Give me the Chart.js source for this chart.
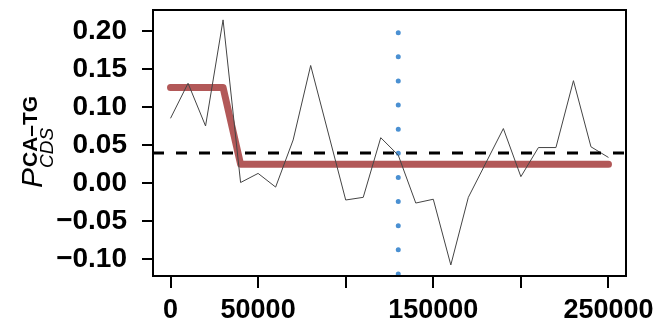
<!DOCTYPE html>
<html>
<head>
<meta charset="utf-8">
<script src="https://cdn.jsdelivr.net/npm/chart.js@4"></script>
<style>
  html, body { margin: 0; padding: 0; background: #fff; }
  canvas { display: block; }
</style>
</head>
<body>
<canvas id="chart" width="657" height="324"></canvas>
<script>
// window positions (bp) and the per-window values
const positions = [0, 10000, 20000, 30000, 40000, 50000, 60000, 70000, 80000,
    100000, 110000, 120000, 130000, 140000, 150000, 160000, 170000,
    190000, 200000, 210000, 220000, 230000, 240000, 250000];
const values = [0.0855, 0.1316, 0.0754, 0.215, 0.001, 0.013, -0.005, 0.057, 0.155,
    -0.022, -0.0185, 0.060, 0.037, -0.026, -0.021, -0.1075, -0.0185,
    0.072, 0.0087, 0.047, 0.047, 0.135, 0.048, 0.034];

// fitted step (segment means)
const stepX = [0, 30000, 40000, 250000];
const stepY = [0.126, 0.126, 0.025, 0.025];

const threshold = 0.04;   // dashed horizontal
const marker = 130000;    // dotted vertical

const xRange = [-10000, 260000];
const yRange = [-0.122, 0.228];
const xTicks = [0, 50000, 100000, 150000, 200000, 250000];
const xTickLabels = ['0', '50000', '', '150000', '', '250000'];
const yTicks = [-0.10, -0.05, 0.00, 0.05, 0.10, 0.15, 0.20];
const yTickLabels = ['\u22120.10', '\u22120.05', '0.00', '0.05', '0.10', '0.15', '0.20'];

const toPts = (xs, ys) => xs.map((x, i) => ({ x: x, y: ys[i] }));

// box around the plot + rotated y title with sub/superscript
const frame = {
    id: 'frame',
    afterDraw(chart) {
        const ctx = chart.ctx;
        const a = chart.chartArea;
        ctx.save();
        ctx.strokeStyle = '#000';
        ctx.lineWidth = 2;
        ctx.strokeRect(a.left, a.top, a.right - a.left, a.bottom - a.top);

        const mid = (a.top + a.bottom) / 2;
        ctx.translate(0, mid);
        ctx.rotate(-Math.PI / 2);
        ctx.fillStyle = '#000';
        ctx.textBaseline = 'alphabetic';
        ctx.textAlign = 'left';
        const fP = 'italic 30px "Liberation Sans"';
        const fSup = 'bold 21px "Liberation Sans"';
        const fSub = 'italic 19px "Liberation Sans"';
        ctx.font = fP; const wP = ctx.measureText('P').width;
        const x0 = mid - 188;
        ctx.fillText('P', x0, 42);
        ctx.font = fSup; ctx.fillText('CA\u2013TG', x0 + wP + 1, 37);
        ctx.font = fSub; ctx.fillText('CDS', x0 + wP, 53);
        ctx.restore();
    }
};

new Chart(document.getElementById('chart').getContext('2d'), {
    type: 'line',
    data: {
        datasets: [
            {
                data: toPts(stepX, stepY),
                borderColor: 'rgba(170, 70, 70, 0.9)',
                borderWidth: 7,
                borderCapStyle: 'round',
                borderJoinStyle: 'round',
                pointRadius: 0,
                order: 4
            },
            {
                data: toPts([marker, marker], [-0.1193, yRange[1]]),
                borderColor: '#4a90d2',
                borderWidth: 5,
                borderDash: [0, 24.13],
                borderCapStyle: 'round',
                pointRadius: 0,
                order: 3
            },
            {
                data: toPts(positions, values),
                borderColor: '#444',
                borderWidth: 1,
                pointRadius: 0,
                tension: 0,
                order: 2
            },
            {
                data: toPts(xRange, [threshold, threshold]),
                borderColor: '#000',
                borderWidth: 3,
                borderDash: [11, 12],
                pointRadius: 0,
                order: 1
            }
        ]
    },
    options: {
        responsive: false,
        animation: false,
        devicePixelRatio: 1,
        layout: { padding: { left: 0, top: 10, right: 31, bottom: 0 } },
        plugins: { legend: { display: false }, tooltip: { enabled: false } },
        scales: {
            x: {
                type: 'linear',
                min: xRange[0],
                max: xRange[1],
                afterBuildTicks: s => { s.ticks = xTicks.map(v => ({ value: v })); },
                afterFit: s => { s.height = 48; s.paddingLeft = 0; s.paddingRight = 0; },
                border: { display: false },
                grid: { drawOnChartArea: false, drawTicks: true, tickLength: 12, color: '#000', lineWidth: 2 },
                ticks: {
                    autoSkip: false,
                    maxRotation: 0,
                    padding: 6,
                    color: '#000',
                    font: { family: 'Liberation Sans', size: 27, weight: 'bold' },
                    callback: (v, i) => xTickLabels[i]
                }
            },
            y: {
                min: yRange[0],
                max: yRange[1],
                afterBuildTicks: s => { s.ticks = yTicks.map(v => ({ value: v })); },
                afterFit: s => { s.width = 153; s.paddingTop = 0; s.paddingBottom = 0; },
                border: { display: false },
                grid: { drawOnChartArea: false, drawTicks: true, tickLength: 11, color: '#000', lineWidth: 2 },
                ticks: {
                    autoSkip: false,
                    padding: 15,
                    color: '#000',
                    font: { family: 'Liberation Sans', size: 28, weight: 'bold' },
                    callback: (v, i) => yTickLabels[i]
                }
            }
        }
    },
    plugins: [frame]
});
</script>
</body>
</html>
